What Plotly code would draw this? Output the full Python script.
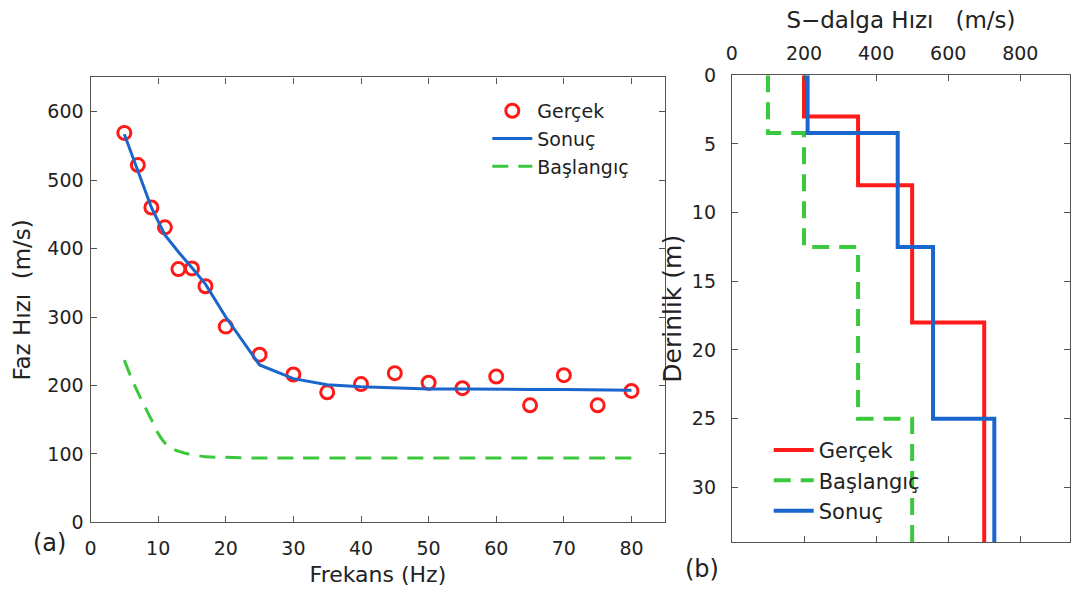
import plotly.graph_objects as go

# ---- Data: panel (a) dispersion curves ----
freq_obs = [5, 7, 9, 11, 13, 15, 17, 20, 25, 30, 35, 40, 45, 50, 55, 60, 65, 70, 75, 80]
vel_obs = [569, 522, 460, 431, 370, 371, 345, 286, 245, 216, 190, 202, 218, 204, 196, 213, 171, 215, 171, 192]

freq_fit = [5, 7, 9, 11, 13, 15, 17, 20, 25, 30, 35, 40, 45, 50, 55, 60, 65, 70, 75, 80]
vel_fit = [567, 515, 460, 420, 395, 372, 348, 300, 230, 210, 201, 198, 196, 195, 195, 194, 194, 194, 193, 193]

freq_init = [5, 6, 7, 8, 9, 10, 11, 12, 13, 14, 15, 17, 20, 25, 30, 40, 50, 60, 70, 80]
vel_init = [237, 212, 190, 170, 150, 130, 116, 108, 104, 101, 99, 96, 95, 94, 94, 94, 94, 94, 94, 94]

# ---- Data: panel (b) S-wave velocity profiles (step profiles) ----
true_vs = [200, 350, 500, 700]
true_top = [0, 3, 8, 18]
init_vs = [100, 200, 350, 500]
init_top = [0, 4.2, 12.5, 25]
res_vs = [210, 460, 558, 728]
res_top = [0, 4.2, 12.5, 25]
max_depth = 34


def step_profile(vs, tops, bottom):
    xs, ys = [], []
    for i, v in enumerate(vs):
        z0 = tops[i]
        z1 = tops[i + 1] if i + 1 < len(tops) else bottom
        xs += [v, v]
        ys += [z0, z1]
    return xs, ys


RED = "#ff1a1a"
BLUE = "#1a66cc"
GREEN = "#3cc83c"
AX = "#555555"
TXT = "#222222"
FONT = "DejaVu Sans, Verdana, sans-serif"

fig = go.Figure()

# Panel (a)
fig.add_trace(go.Scatter(x=freq_obs, y=vel_obs, mode="markers", name="Gerçek",
                         marker=dict(symbol="circle-open", size=13, color=RED, line=dict(width=3, color=RED)),
                         xaxis="x", yaxis="y", legend="legend"))
fig.add_trace(go.Scatter(x=freq_fit, y=vel_fit, mode="lines", name="Sonuç",
                         line=dict(color=BLUE, width=3), xaxis="x", yaxis="y", legend="legend"))
fig.add_trace(go.Scatter(x=freq_init, y=vel_init, mode="lines", name="Başlangıç",
                         line=dict(color=GREEN, width=3, dash="16px,10px", shape="spline"),
                         xaxis="x", yaxis="y", legend="legend"))

# Panel (b)
tx, ty = step_profile(true_vs, true_top, max_depth)
ix, iy = step_profile(init_vs, init_top, max_depth)
rx, ry = step_profile(res_vs, res_top, max_depth)
fig.add_trace(go.Scatter(x=tx, y=ty, mode="lines", name="Gerçek",
                         line=dict(color=RED, width=4), xaxis="x2", yaxis="y2", legend="legend2"))
fig.add_trace(go.Scatter(x=ix, y=iy, mode="lines", name="Başlangıç",
                         line=dict(color=GREEN, width=4, dash="17px,10px"), xaxis="x2", yaxis="y2", legend="legend2"))
fig.add_trace(go.Scatter(x=rx, y=ry, mode="lines", name="Sonuç",
                         line=dict(color=BLUE, width=4), xaxis="x2", yaxis="y2", legend="legend2"))

axis_common = dict(showgrid=False, zeroline=False, showline=True, linecolor=AX, linewidth=1.2,
                   ticks="inside", ticklen=6, tickcolor=AX, mirror="ticks",
                   tickfont=dict(family=FONT, size=19, color=TXT))

fig.update_layout(
    width=1072, height=595,
    margin=dict(l=0, r=0, t=0, b=0),
    paper_bgcolor="white", plot_bgcolor="white",
    font=dict(family=FONT, color=TXT),
    xaxis=dict(domain=[85 / 1072, 663 / 1072], range=[0, 85], tickvals=list(range(0, 81, 10)),
               anchor="y", ticklabelstandoff=9,
               title=dict(text="Frekans (Hz)", font=dict(size=22), standoff=8), **axis_common),
    yaxis=dict(domain=[1 - 531 / 595, 1 - 69 / 595], range=[0, 650], tickvals=list(range(0, 601, 100)),
               anchor="x", ticklabelstandoff=2,
               title=dict(text="Faz Hızı  (m/s)", font=dict(size=23), standoff=10), **axis_common),
    xaxis2=dict(domain=[730 / 1072, 1070 / 1072], range=[0, 938], tickvals=[0, 200, 400, 600, 800],
                side="top", anchor="y2", ticklabelstandoff=7,
                title=dict(text="S−dalga Hızı   (m/s)", font=dict(size=23), standoff=6), **axis_common),
    yaxis2=dict(domain=[1 - 551.7 / 595, 1 - 66.7 / 595], range=[max_depth, 0], tickvals=[0, 5, 10, 15, 20, 25, 30],
                anchor="x2", ticklabelstandoff=11,
                title=dict(text="Derinlik (m)", font=dict(size=25), standoff=3), **axis_common),
    legend=dict(x=484 / 1072, y=1 - 84 / 595, xanchor="left", yanchor="top", bgcolor="rgba(0,0,0,0)",
                font=dict(family=FONT, size=19, color=TXT), itemwidth=40, tracegroupgap=0),
    legend2=dict(x=767 / 1072, y=1 - 435 / 595, xanchor="left", yanchor="top", bgcolor="rgba(0,0,0,0)",
                 font=dict(family=FONT, size=21, color=TXT), itemwidth=40, tracegroupgap=0),
    showlegend=True,
    annotations=[
        dict(text="(a)", x=44 / 1072, y=1 - 552 / 595, xref="paper", yref="paper", showarrow=False,
             xanchor="center", yanchor="middle", font=dict(family=FONT, size=24, color=TXT)),
        dict(text="(b)", x=700 / 1072, y=1 - 579 / 595, xref="paper", yref="paper", showarrow=False,
             xanchor="center", yanchor="middle", font=dict(family=FONT, size=24, color=TXT)),
    ],
)

fig.write_html("out.html")
